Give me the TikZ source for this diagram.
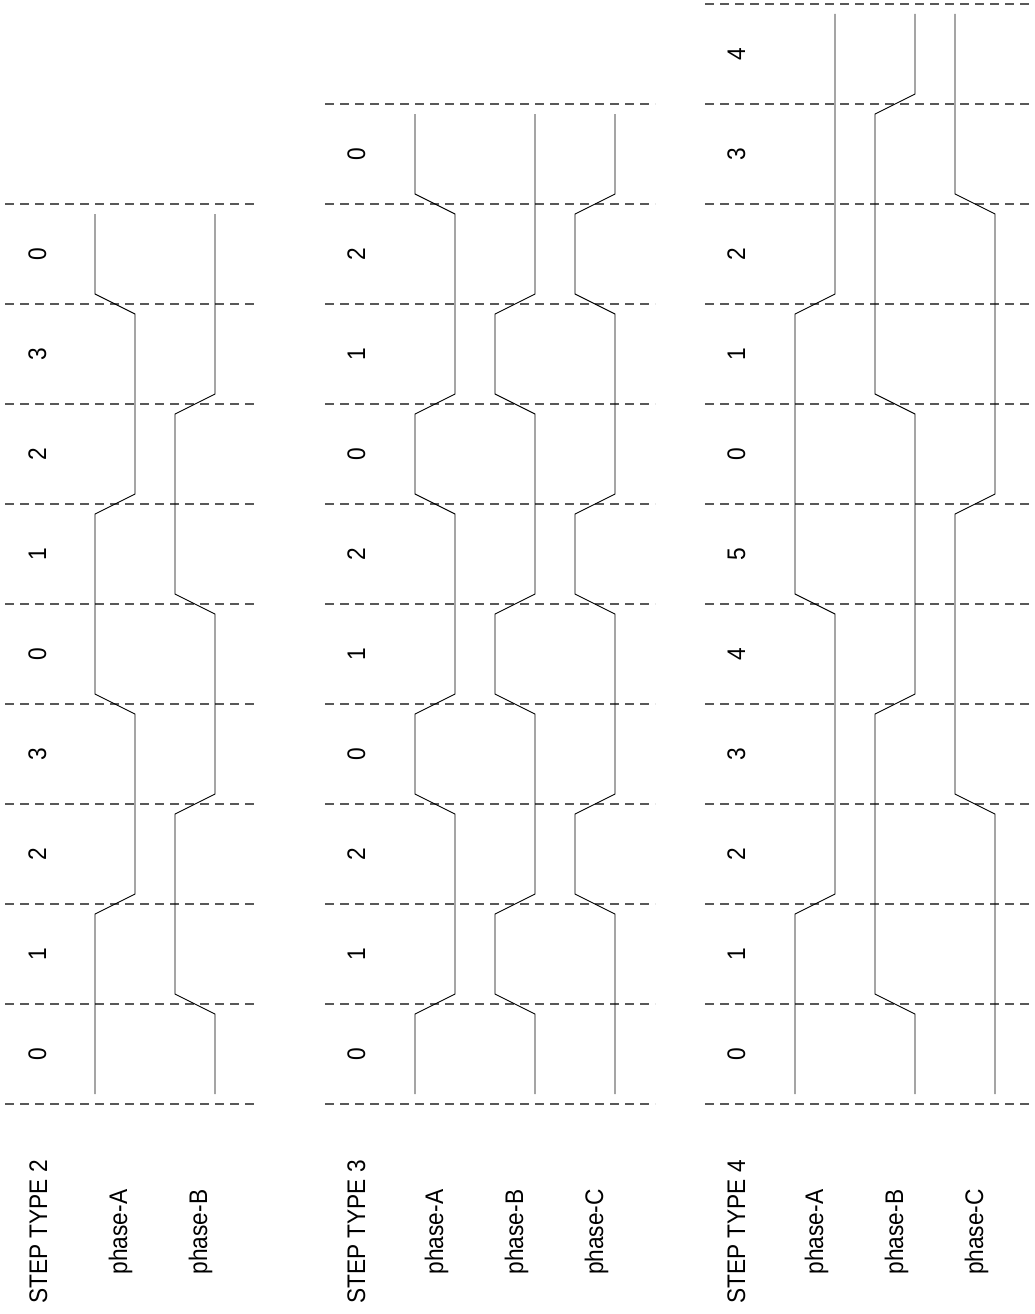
\documentclass[tikz,border=0pt]{standalone}
\usepackage{fontspec}
\setmainfont{Liberation Sans}
\usepackage{graphicx}
\definecolor{gridgray}{gray}{0.35}
\tikzset{
  gridline/.style={draw=gridgray, line width=1.1pt, dash pattern=on 9pt off 6pt},
  wave/.style={draw=black, line width=0.9pt, line join=miter},
  lbl/.style={rotate=90, anchor=base, inner sep=0pt, font=\fontsize{22.7}{27}\selectfont},
}
\newcommand{\tallbox}[1]{\scalebox{1}[1.12]{#1}}
\begin{document}
\begin{tikzpicture}[x=1pt,y=-1pt]
\useasboundingbox (0,0) rectangle (1035,1314);
% ---------- dashed step boundaries ----------
\foreach \k in {0,...,9}  \draw[gridline] (5,{1104-100*\k}) -- (255,{1104-100*\k});
\foreach \k in {0,...,10} \draw[gridline] (325,{1104-100*\k}) -- (655,{1104-100*\k});
\foreach \k in {0,...,11} \draw[gridline] (705,{1104-100*\k}) -- (1035,{1104-100*\k});
% ---------- step numbers ----------
\foreach \t [count=\i from 0] in {0,1,2,3,0,1,2,3,0}
  \node[lbl] (pa\i) at (46,{1054-100*\i}) {\tallbox{\t}};
\foreach \t [count=\i from 0] in {0,1,2,0,1,2,0,1,2,0}
  \node[lbl] (pb\i) at (365,{1054-100*\i}) {\tallbox{\t}};
\foreach \t [count=\i from 0] in {0,1,2,3,4,5,0,1,2,3,4}
  \node[lbl] (pc\i) at (745,{1054-100*\i}) {\tallbox{\t}};
% ---------- titles and signal names ----------
\node[lbl] (t2)  at (47,1232)  {\tallbox{STEP TYPE 2}};
\node[lbl] (t2a) at (127,1232) {\tallbox{phase-A}};
\node[lbl] (t2b) at (207,1232) {\tallbox{phase-B}};
\node[lbl] (t3)  at (365,1232) {\tallbox{STEP TYPE 3}};
\node[lbl] (t3a) at (443,1232) {\tallbox{phase-A}};
\node[lbl] (t3b) at (523,1232) {\tallbox{phase-B}};
\node[lbl] (t3c) at (603,1232) {\tallbox{phase-C}};
\node[lbl] (t4)  at (745,1232) {\tallbox{STEP TYPE 4}};
\node[lbl] (t4a) at (823,1232) {\tallbox{phase-A}};
\node[lbl] (t4b) at (903,1232) {\tallbox{phase-B}};
\node[lbl] (t4c) at (983,1232) {\tallbox{phase-C}};
% ---------- STEP TYPE 2 waveforms ----------
\draw[wave] (95,1094) -- (95,914) -- (135,894) -- (135,714) -- (95,694) -- (95,514)
  -- (135,494) -- (135,314) -- (95,294) -- (95,214);
\draw[wave] (215,1094) -- (215,1014) -- (175,994) -- (175,814) -- (215,794) -- (215,614)
  -- (175,594) -- (175,414) -- (215,394) -- (215,214);
% ---------- STEP TYPE 3 waveforms ----------
\draw[wave] (415,1094) -- (415,1014) -- (455,994) -- (455,814) -- (415,794) -- (415,714)
  -- (455,694) -- (455,514) -- (415,494) -- (415,414) -- (455,394) -- (455,214)
  -- (415,194) -- (415,114);
\draw[wave] (535,1094) -- (535,1014) -- (495,994) -- (495,914) -- (535,894) -- (535,714)
  -- (495,694) -- (495,614) -- (535,594) -- (535,414) -- (495,394) -- (495,314)
  -- (535,294) -- (535,114);
\draw[wave] (615,1094) -- (615,914) -- (575,894) -- (575,814) -- (615,794) -- (615,614)
  -- (575,594) -- (575,514) -- (615,494) -- (615,314) -- (575,294) -- (575,214)
  -- (615,194) -- (615,114);
% ---------- STEP TYPE 4 waveforms ----------
\draw[wave] (795,1094) -- (795,914) -- (835,894) -- (835,614) -- (795,594) -- (795,314)
  -- (835,294) -- (835,14);
\draw[wave] (915,1094) -- (915,1014) -- (875,994) -- (875,714) -- (915,694) -- (915,414)
  -- (875,394) -- (875,114) -- (915,94) -- (915,14);
\draw[wave] (995,1094) -- (995,814) -- (955,794) -- (955,514) -- (995,494) -- (995,214)
  -- (955,194) -- (955,14);
\end{tikzpicture}
\end{document}
